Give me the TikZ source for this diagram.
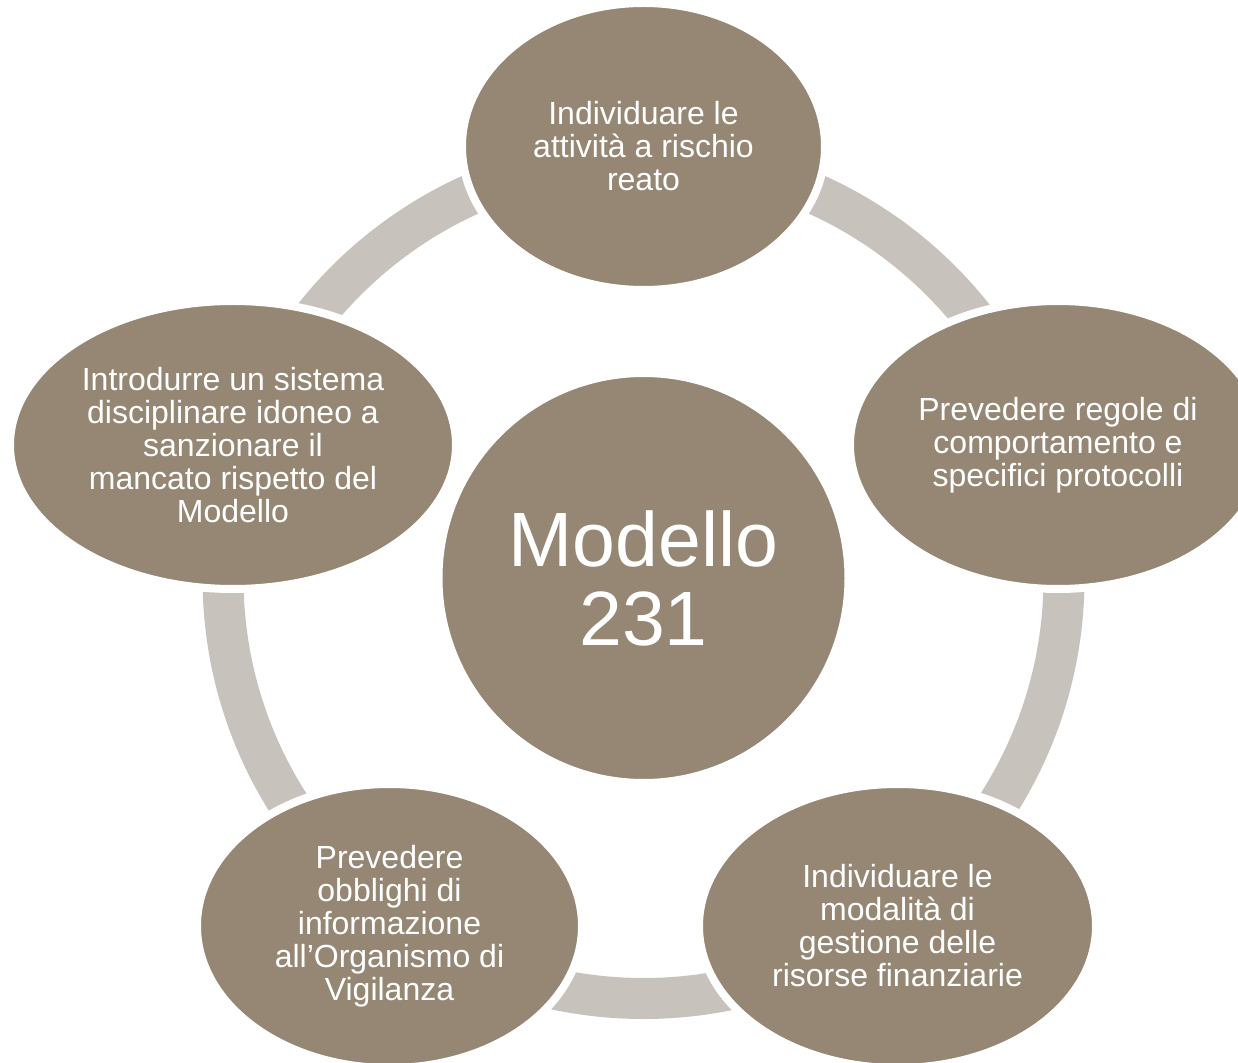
\documentclass[tikz,border=0pt]{standalone}
\usepackage{fontspec}
\setmainfont{Liberation Sans}
\usetikzlibrary{shapes.geometric}

\definecolor{stagefill}{RGB}{149,135,116}
\definecolor{ringgray}{RGB}{199,195,188}

\tikzset{
  stage/.style={ellipse, fill=stagefill, draw=white, line width=4pt,
    text=white, align=center, inner sep=0pt,
    font=\fontsize{16}{16.5}\selectfont},
  core/.style={circle, fill=stagefill, draw=white, line width=4pt,
    text=white, align=center, inner sep=0pt, minimum size=205pt,
    font=\fontsize{38.5}{39.5}\selectfont}
}

\begin{document}
\begin{tikzpicture}[x=0.5pt, y=-0.5pt]
% Page frame, same size as the reference
\useasboundingbox (0,0) rectangle (1238,1063);

% Ring behind the stages
\coordinate (hub) at (643.5,578);
\draw[ringgray, line width=20.5pt] (hub) circle[radius=210.25pt];

% Centre circle
\node[core] (modello) at (hub) {Modello\\231};

% Five stages round the ring
\node[stage, minimum width=181.5pt, minimum height=143.5pt] (attivita) at (643.5,146.5)
  {Individuare le\\attività a rischio\\reato};
\node[stage, minimum width=208pt, minimum height=144pt] (regole) at (1058,445)
  {Prevedere regole di\\comportamento e\\specifici protocolli};
\node[stage, minimum width=198.5pt, minimum height=142pt] (risorse) at (897.5,926)
  {Individuare le\\modalità di\\gestione delle\\risorse finanziarie};
\node[stage, minimum width=192.5pt, minimum height=142pt] (obblighi) at (389.5,926)
  {Prevedere\\obblighi di\\informazione\\all’Organismo di\\Vigilanza};
\node[stage, minimum width=223pt, minimum height=144pt] (sistema) at (233,445)
  {Introdurre un sistema\\disciplinare idoneo a\\sanzionare il\\mancato rispetto del\\Modello};
\end{tikzpicture}
\end{document}
